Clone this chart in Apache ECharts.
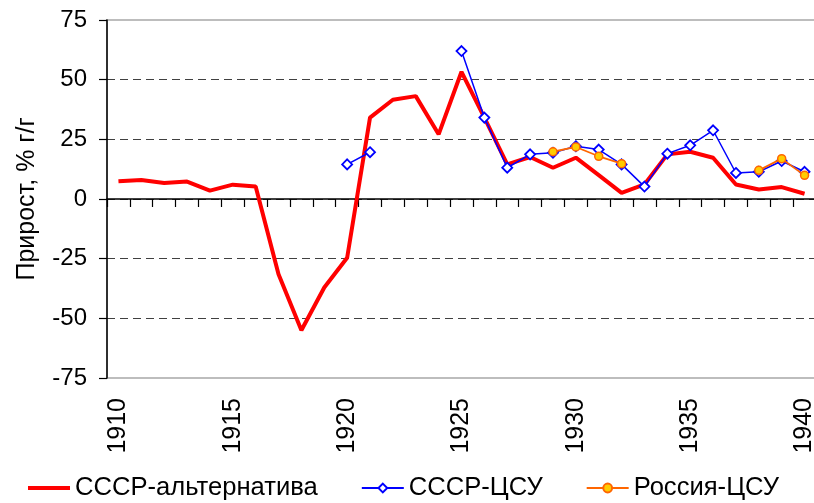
<!DOCTYPE html>
<html>
<head>
<meta charset="utf-8">
<script src="https://cdn.jsdelivr.net/npm/echarts@6/dist/echarts.min.js"></script>
<style>
html,body{margin:0;padding:0;background:#fff;}
#c{width:814px;height:503px;}
</style>
</head>
<body>
<div id="c"></div>
<script>
var years = [];
for (var y = 1910; y <= 1940; y++) years.push(String(y));

var yTicks = [-75, -50, -25, 0, 25, 50, 75];

var ussrAlt = [7.4, 8.0, 6.7, 7.3, 3.5, 6.0, 5.2, -31.5, -55.0, -37.1, -24.6,
  34.1, 41.6, 43.1, 27.1, 53.3, 34.1, 14.5, 17.6, 13.1, 17.3,
  10.0, 2.6, 6.1, 18.7, 19.8, 17.3, 6.1, 4.0, 5.0, 2.2];

var ussrCSU = [null, null, null, null, null, null, null, null, null, null, 14.5,
  19.6, null, null, null, 62.0, 34.1, 13.1, 18.7, 19.4, 22.1,
  20.7, 14.5, 5.2, 19.0, 22.5, 28.8, 10.9, 11.4, 15.9, 11.4];

var russiaCSU = [null, null, null, null, null, null, null, null, null, null, null,
  null, null, null, null, null, null, null, null, 19.8, 21.8,
  17.9, 14.8, null, null, null, null, null, 12.0, 16.9, 9.9];

var seriesNames = ['СССР-альтернатива', 'СССР-ЦСУ', 'Россия-ЦСУ'];
var yName = 'Прирост, % г/г';

var FONT = '"Liberation Sans", Arial, sans-serif';
var chart = echarts.init(document.getElementById('c'), null, {renderer: 'canvas'});
chart.setOption({
  animation: false,
  backgroundColor: '#ffffff',
  textStyle: {fontFamily: FONT, color: '#000'},
  grid: {
    left: 107, top: 20, width: 709, bottom: 125,
    outerBoundsMode: 'none', containLabel: false,
    show: true, borderColor: '#bdbdbd', borderWidth: 2, backgroundColor: 'transparent'
  },
  legend: {
    left: 28, top: 474, padding: 0,
    itemWidth: 42, itemHeight: 11, itemGap: 43,
    textStyle: {fontFamily: FONT, fontSize: 25.6, color: '#000', lineHeight: 28},
    data: [
      {name: seriesNames[0], icon: 'path://M0,0H42V4H0Z', itemStyle: {color: '#ff0000'}},
      {name: seriesNames[1]},
      {name: seriesNames[2]}
    ]
  },
  xAxis: {
    type: 'category',
    data: years,
    boundaryGap: true,
    axisLine: {onZero: true, lineStyle: {color: '#000', width: 1.5}},
    axisTick: {show: true, interval: 0, length: 8, inside: false, lineStyle: {color: '#000', width: 1.2}},
    axisLabel: {interval: 4, rotate: 90, margin: 20, fontSize: 25, color: '#000', fontFamily: FONT},
    splitLine: {show: false}
  },
  yAxis: {
    type: 'value',
    min: -75, max: 75, interval: 25,
    name: yName,
    nameLocation: 'middle',
    nameRotate: 90,
    nameGap: 67,
    nameTextStyle: {fontSize: 25, color: '#000', fontFamily: FONT},
    axisLine: {show: true, lineStyle: {color: '#000', width: 1.5}},
    axisTick: {show: true, length: 8, lineStyle: {color: '#000', width: 1.2}},
    axisLabel: {margin: 20, fontSize: 24, color: '#000', fontFamily: FONT,
      customValues: yTicks},
    splitLine: {show: true, showMinLine: false, showMaxLine: false,
      lineStyle: {color: '#404040', type: [8, 5], width: 1}}
  },
  series: [
    {
      name: seriesNames[0], type: 'line', data: ussrAlt,
      symbol: 'none', z: 2,
      lineStyle: {color: '#ff0000', width: 4},
      itemStyle: {color: '#ff0000'}
    },
    {
      name: seriesNames[1], type: 'line', data: ussrCSU,
      symbol: 'diamond', symbolSize: 10, connectNulls: false, z: 3,
      lineStyle: {color: '#0000ff', width: 1.5},
      itemStyle: {color: '#ffffff', borderColor: '#0000ff', borderWidth: 1.8}
    },
    {
      name: seriesNames[2], type: 'line', data: russiaCSU,
      symbol: 'circle', symbolSize: 8, connectNulls: false, z: 4,
      lineStyle: {color: '#ff6600', width: 1.8},
      itemStyle: {color: '#ffcc00', borderColor: '#ff6600', borderWidth: 1.5}
    }
  ]
});
</script>
</body>
</html>
